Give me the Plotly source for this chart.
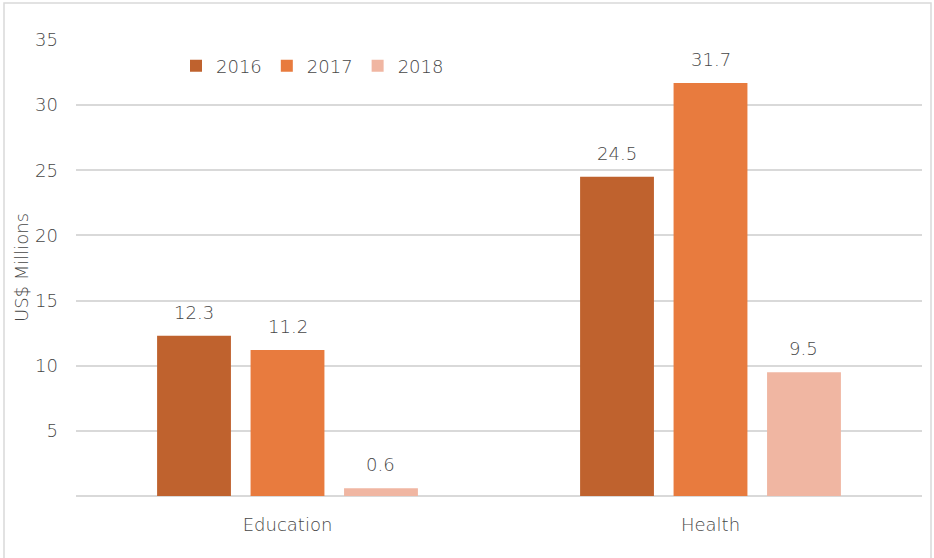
import plotly.graph_objects as go

categories = ["Education", "Health"]
years = ["2016", "2017", "2018"]
values_2016 = [12.3, 24.5]
values_2017 = [11.2, 31.7]
values_2018 = [0.6, 9.5]
colors = ["#BF622E", "#E87B3E", "#F0B6A2"]
tick_vals = [5, 10, 15, 20, 25, 30, 35]

FONT = "DejaVu Sans"
GREY = "#474747"
FS = 18
WT = 300

BARGAP = 0.337
L, R, T, B = 76, 12, 40, 62
W, H = 934, 558
PW, PH = W - L - R, H - T - B


def f(size=FS):
    return dict(family=FONT, size=size, color=GREY, weight=WT)


fig = go.Figure()
series = [values_2016, values_2017, values_2018]
for name, vals, col in zip(years, series, colors):
    fig.add_trace(go.Bar(name=name, x=categories, y=vals, marker_color=col,
                         marker_line_width=0, hoverinfo="x+y"))

# value labels placed above each bar (offset from group layout)
slot = (1 - BARGAP) / len(years)
annotations = []
for k, vals in enumerate(series):
    for i, v in enumerate(vals):
        annotations.append(dict(
            x=i + (k - (len(years) - 1) / 2) * slot, y=v, xref="x", yref="y",
            text=f"{v:.1f}", showarrow=False, yanchor="bottom", yshift=11,
            font=f()))
annotations.append(dict(
    x=(21 - L) / PW, y=0.5, xref="paper", yref="paper", text="US$ Millions",
    textangle=-90, showarrow=False, xanchor="center", yanchor="middle",
    font=f()))

fig.update_layout(
    width=W, height=H,
    paper_bgcolor="white", plot_bgcolor="white",
    margin=dict(l=L, r=R, t=T, b=B),
    barmode="group", bargap=BARGAP, bargroupgap=0.21,
    font=f(),
    legend=dict(orientation="h", x=(176 - L) / PW, xanchor="left",
                y=(H - B - 66) / PH, yanchor="middle",
                font=f(), itemwidth=30,
                traceorder="normal", bgcolor="rgba(0,0,0,0)"),
    shapes=[dict(type="rect", xref="paper", yref="paper", x0=(4 - L) / PW, x1=(931 - L) / PW,
                 y0=-(B + 4) / PH, y1=1 + (T - 3) / PH, line=dict(color="#D9D9D9", width=1.5),
                 layer="below")],
    annotations=annotations,
)
fig.update_xaxes(showgrid=False, showline=False, ticks="", automargin=False,
                 tickfont=f(), ticklabelstandoff=16)
fig.update_yaxes(range=[0, 35], tickvals=tick_vals, showgrid=True, gridcolor="#D9D9D9",
                 gridwidth=1.5, zeroline=True, zerolinecolor="#D9D9D9", zerolinewidth=1.5,
                 automargin=False,
                 tickfont=f(), ticklabelstandoff=17)
fig.write_html("out.html", config={"displayModeBar": False},
               post_script="document.body.style.margin='0';document.body.style.overflow='hidden';")
